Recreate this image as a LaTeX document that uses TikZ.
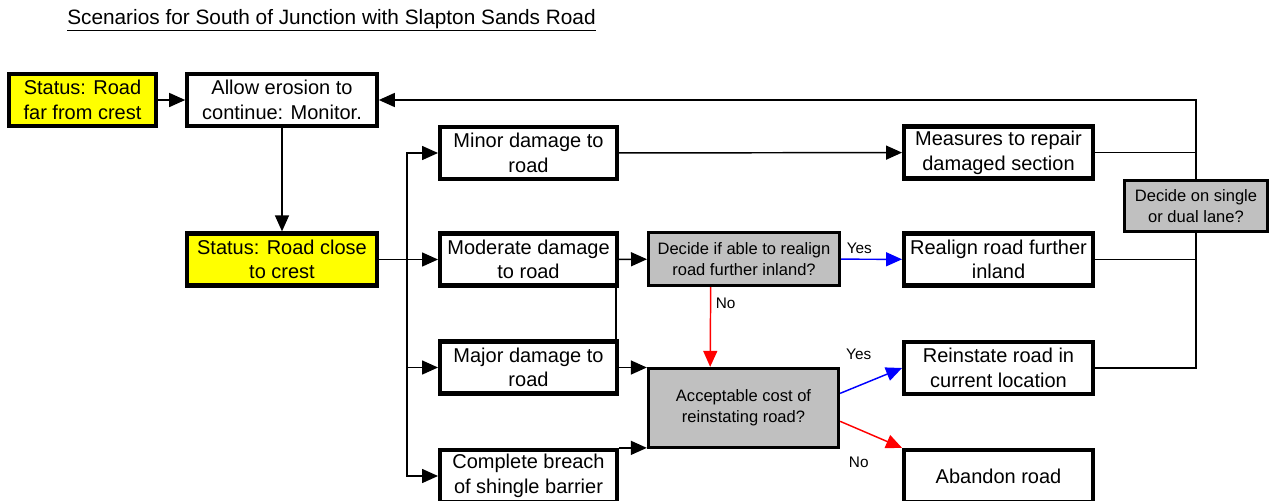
\documentclass[tikz,border=0pt]{standalone}
\usepackage{fontspec}
\setmainfont{Liberation Sans}
\usepackage{tikz}
\usetikzlibrary{arrows.meta, positioning, calc}
\definecolor{statusyellow}{RGB}{255, 255, 0}
\definecolor{decisiongrey}{RGB}{192, 192, 192}

\begin{document}
\begin{tikzpicture}[x=0.75pt, y=-0.75pt,
    status/.style={rectangle, draw=black, fill=statusyellow, line width=3.2pt, minimum height=39pt, inner sep=1pt, align=center, font=\fontsize{15}{18.5}\selectfont},
    action/.style={status, fill=white},
    decision/.style={rectangle, draw=black, fill=decisiongrey, line width=2.2pt, inner sep=1pt, align=center, font=\fontsize{12.4}{16}\selectfont},
    link/.style={line width=1.1pt, black},
    arrow/.style={link, -{Triangle[length=12pt, width=10.5pt]}},
    lbl/.style={font=\fontsize{11.5}{13}\selectfont}
]
\useasboundingbox (0,0) rectangle (1276,500);

\node (title) [anchor=west, inner sep=0pt, font=\fontsize{15.6}{18}\selectfont] at (67,20) {\underline{Scenarios for South of Junction with Slapton Sands Road}};

\node (farcrest)  [status, minimum width=110pt] at (82.5,100) {Status: Road\\far from crest};
\node (allow)     [action, minimum width=142pt] at (282,100) {Allow erosion to\\continue: Monitor.};
\node (closecrest)[status, minimum width=142pt] at (282,259.5) {Status: Road close\\to crest};

\node (minor)     [action, minimum width=132.5pt] at (528.5,153) {Minor damage to\\road};
\node (moderate)  [action, minimum width=132.5pt] at (528.5,259.5) {Moderate damage\\to road};
\node (major)     [action, minimum width=132.5pt] at (528.5,367.5) {Major damage to\\road};
\node (breach)    [action, minimum width=132.5pt] at (528.5,476) {Complete breach\\of shingle barrier};

\node (realigndec)[decision, minimum width=143.3pt, minimum height=40pt] at (744,259) {Decide if able to realign\\road further inland?};
\node (costdec)   [decision, minimum width=142.8pt, minimum height=59.5pt] at (743.5,408) {Acceptable cost of\\reinstating road?};

\node (measures)  [action, minimum width=141.5pt] at (998.5,152.5) {Measures to repair\\damaged section};
\node (realign)   [action, minimum width=141.5pt] at (998.5,259.5) {Realign road further\\inland};
\node (reinstate) [action, minimum width=141.5pt] at (998.5,368) {Reinstate road in\\current location};
\node (abandon)   [action, minimum width=141.5pt] at (998.5,476) {Abandon road};

\coordinate (trunk) at (407,259.5);
\coordinate (bus) at (1196,100);

% left side
\draw [arrow] (farcrest) -- (allow);
\draw [arrow] (allow) -- (closecrest);
\draw [link] (closecrest) -- (trunk);
\draw [arrow] (trunk) |- (minor);
\draw [arrow] (trunk) -- (moderate);
\draw [arrow] (trunk) |- (major);
\draw [arrow] (trunk) |- (breach);

% damage to decisions
\draw [arrow] (minor) -- (measures);
\draw [arrow] (moderate) -- (realigndec);
\draw [link] ([xshift=-2.4pt]moderate.south east) -- ([xshift=-2.4pt]major.north east);
\draw [arrow] (major.east) -- (major.east -| costdec.west);
\draw [arrow] (breach.north east) -- (breach.north east -| costdec.west);

\draw [arrow, red] ([xshift=-25pt]realigndec.south) -- node[pos=0.2, right, lbl, black] {No} ([xshift=-25pt]costdec.north);
\draw [arrow, blue] (realigndec) -- node[pos=0.3, above, lbl, black] {Yes} (realign);
\draw [arrow, blue] ([yshift=11pt]costdec.east) -- node[pos=0.3, above=16pt, lbl, black] {Yes} (reinstate.west);
\draw [arrow, red] ([yshift=-10pt]costdec.east) -- node[pos=0.3, below=17pt, lbl, black] {No} (abandon.north west);

% back to monitoring
\draw [arrow] (reinstate) -| (bus) -- (allow);
\draw [link] (measures) -- (measures -| bus);
\draw [link] (realign) -- (realign -| bus);

\node (lane) [decision, minimum width=107.5pt, minimum height=38.5pt] at (1196,206) {Decide on single\\or dual lane?};

\end{tikzpicture}
\end{document}
